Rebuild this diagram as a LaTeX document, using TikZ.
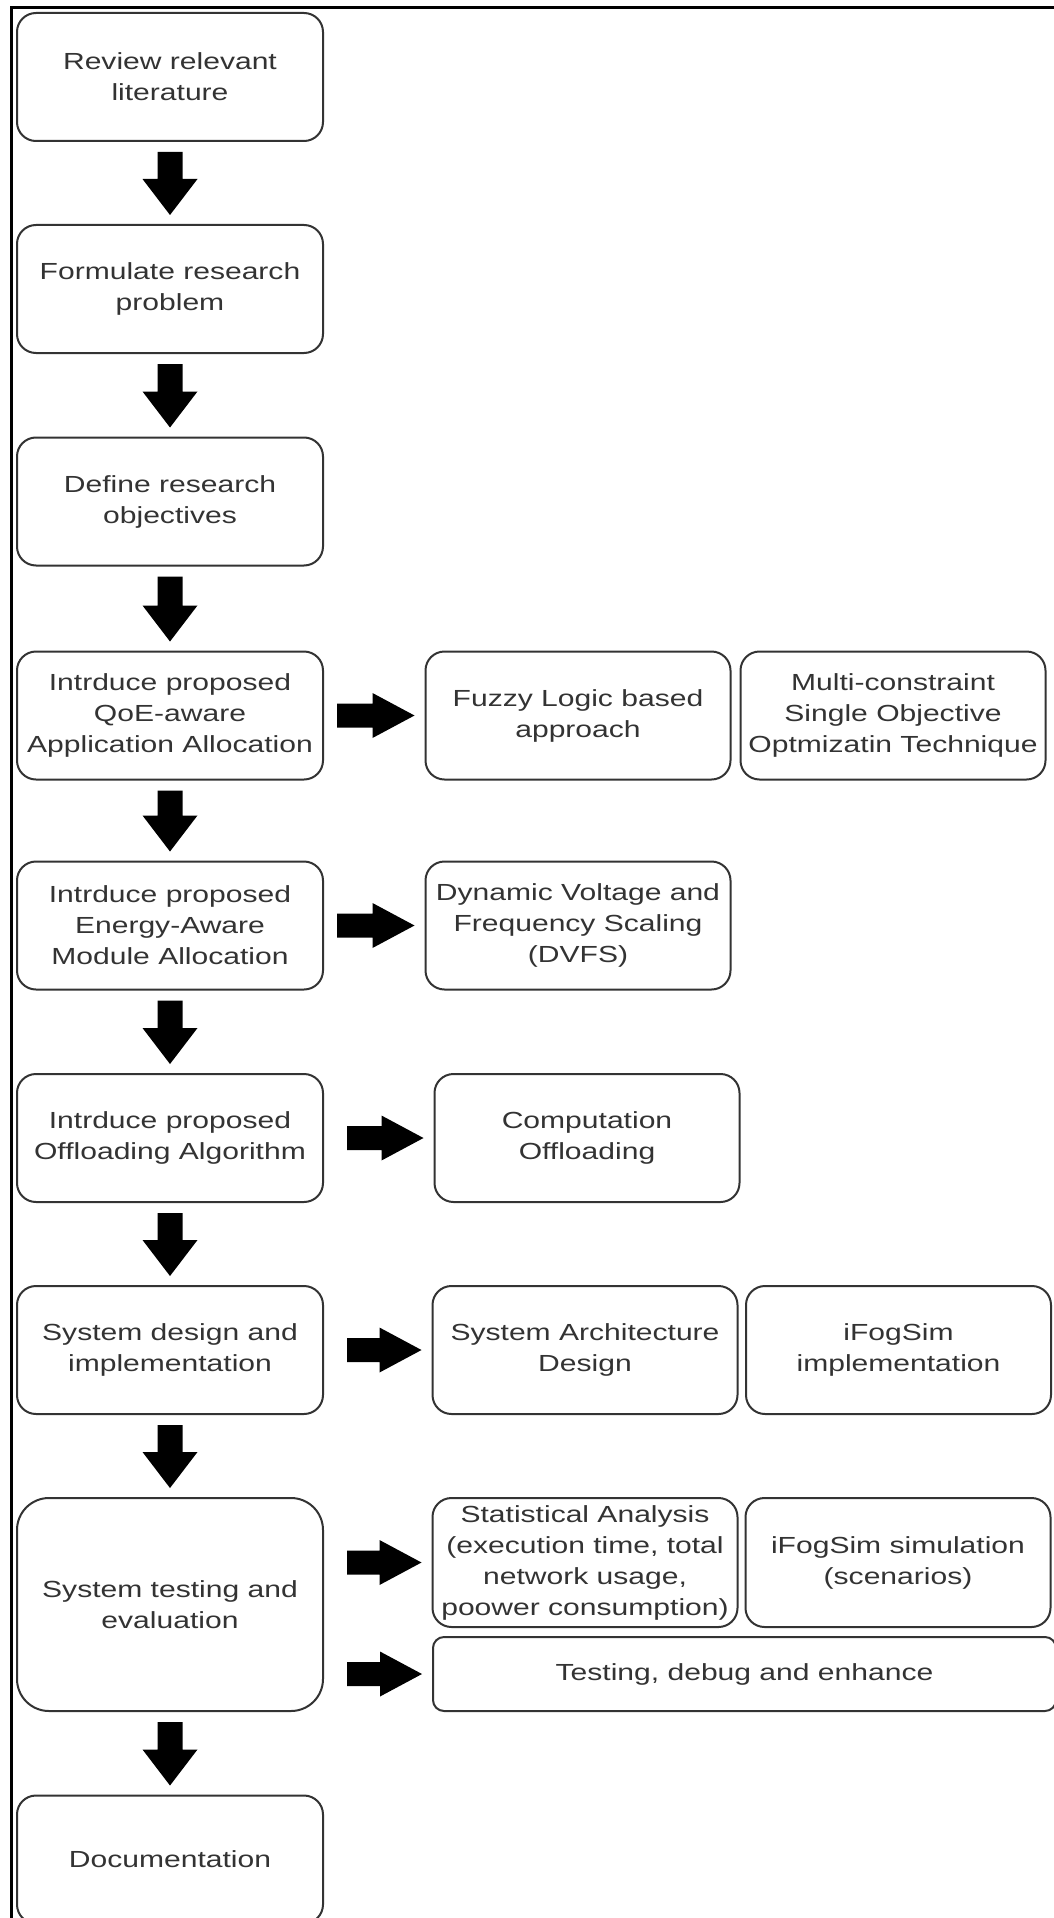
\documentclass[tikz,border=0pt]{standalone}
\usepackage{fontspec}
\setmainfont{Liberation Sans}[FakeStretch=1.29]
\usetikzlibrary{calc}
\definecolor{ink}{RGB}{51,51,51}
\begin{document}
\begin{tikzpicture}[x=1pt,y=-1pt,
  box/.style={draw=ink, line width=2pt, rounded corners=19pt, fill=white,
    text=ink, align=center, inner sep=0pt,
    font=\fontsize{23.3}{31}\selectfont},
  mainbox/.style={box, minimum width=306pt, minimum height=128pt},
  sidebox/.style={box, minimum width=305pt, minimum height=128pt},
  downblk/.style={fill=black, to path={let \p1=(\tikztostart), \p2=(\tikztotarget) in
    (\x1-12.5pt,\y1) -- (\x1+12.5pt,\y1) -- (\x1+12.5pt,\y2+36pt) -- (\x1+27.5pt,\y2+36pt)
    -- (\x1,\y2) -- (\x1-27.5pt,\y2+36pt) -- (\x1-12.5pt,\y2+36pt) -- cycle}},
  rightblk/.style={fill=black, to path={let \p1=(\tikztostart), \p2=(\tikztotarget) in
    (\x1,\y1+12pt) -- (\x2-42pt,\y1+12pt) -- (\x2-42pt,\y1+22.5pt) -- (\x2,\y1)
    -- (\x2-42pt,\y1-22.5pt) -- (\x2-42pt,\y1-12pt) -- (\x1,\y1-12pt) -- cycle}}
]
\useasboundingbox (0,0) rectangle (1053,1918);

% frame along the top and left edges
\draw[line width=3pt] (11.5,1930) -- (11.5,7.5) -- (1060,7.5);

% main column
\node[mainbox] (b1) at (170,77)     {Review relevant\\literature};
\node[mainbox] (b2) at (170,289)    {Formulate research\\problem};
\node[mainbox] (b3) at (170,501.5)  {Define research\\objectives};
\node[mainbox] (b4) at (170,715.5)  {Intrduce proposed\\QoE-aware\\Application Allocation};
\node[mainbox] (b5) at (170,925.5)  {Intrduce proposed\\Energy-Aware\\Module Allocation};
\node[mainbox] (b6) at (170,1138)   {Intrduce proposed\\Offloading Algorithm};
\node[mainbox] (b7) at (170,1350)   {System design and\\implementation};
\node[mainbox, minimum height=213pt, rounded corners=32pt] (b8) at (170,1604.5)
  {System testing and\\evaluation};
\node[mainbox] (b9) at (170,1859.5) {Documentation};

% side boxes
\node[sidebox] (fz) at (578,715.5)  {Fuzzy Logic based\\approach};
\node[sidebox] (mo) at (893,715.5)  {Multi-constraint\\Single Objective\\Optmizatin Technique};
\node[sidebox] (dv) at (578,925.5)  {Dynamic Voltage and\\Frequency Scaling\\(DVFS)};
\node[sidebox] (co) at (587,1138)   {Computation\\Offloading};
\node[sidebox] (sa) at (585,1350)   {System Architecture\\Design};
\node[sidebox] (fi) at (898.5,1350) {iFogSim\\implementation};
\node[sidebox, minimum height=129pt] (st) at (585,1562.5)
  {Statistical Analysis\\(execution time, total\\network usage,\\poower consumption)};
\node[sidebox, minimum height=129pt] (fs) at (898,1562.5) {iFogSim simulation\\(scenarios)};
\node[box, minimum width=623pt, minimum height=74pt, rounded corners=11pt] (td)
  at (744.5,1674) {Testing, debug and enhance};

% downward block arrows
\foreach \a/\b in {b1/b2,b2/b3,b3/b4,b4/b5,b5/b6,b6/b7,b7/b8,b8/b9}
  \fill[downblk] ($(\a.south)+(0,10)$) to ($(\b.north)+(0,-9)$);

% rightward block arrows
\fill[rightblk] ($(b4.east)+(13,0)$) to ($(fz.west)+(-10,0)$);
\fill[rightblk] ($(b5.east)+(13,0)$) to ($(dv.west)+(-10,0)$);
\fill[rightblk] ($(b6.east)+(23,0)$) to ($(co.west)+(-10,0)$);
\fill[rightblk] ($(b7.east)+(23,0)$) to ($(sa.west)+(-10,0)$);
\fill[rightblk] ($(b8.east |- st.west)+(23,0)$) to ($(st.west)+(-10,0)$);
\fill[rightblk] ($(b8.east |- td.west)+(23,0)$) to ($(td.west)+(-10,0)$);
\end{tikzpicture}
\end{document}
